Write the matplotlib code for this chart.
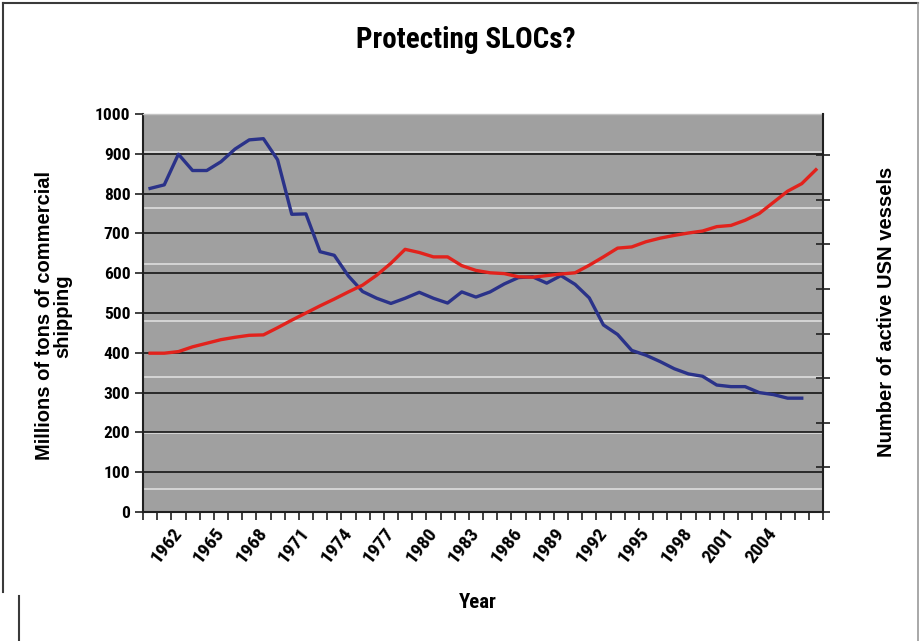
import matplotlib
matplotlib.use("Agg")
import matplotlib.pyplot as plt
from matplotlib.lines import Line2D
import numpy as np

# Yearly series, 1960-2007
years = list(range(1960, 2008))

# Active USN vessels (ends 2006)
usn_vessels = [
    813, 822, 899, 858, 858, 880, 912, 935, 938, 885,
    748, 749, 654, 645, 593, 554, 537, 524, 537, 552,
    537, 525, 553, 540, 553, 573, 589, 591, 575, 594,
    572, 538, 470, 446, 406, 394, 378, 360, 347, 341,
    319, 315, 315, 300, 295, 286, 286,
]

# Commercial shipping tonnage, millions of tons
commercial_tonnage = [
    399, 399, 403, 415, 424, 433, 439, 444, 445, 463,
    482, 500, 518, 535, 553, 570, 595, 625, 660, 652,
    641, 641, 619, 607, 601, 599, 591, 590, 594, 598,
    601, 620, 641, 663, 666, 679, 688, 695, 701, 706,
    717, 720, 733, 750, 778, 806, 825, 860,
]

label_years = [1962, 1965, 1968, 1971, 1974, 1977, 1980, 1983,
               1986, 1989, 1992, 1995, 1998, 2001, 2004]
left_ticks = [0, 100, 200, 300, 400, 500, 600, 700, 800, 900, 1000]
right_ticks = [0, 50, 100, 150, 200, 250, 300, 350, 400]
light_lines = [58, 199, 340, 481, 622, 763, 904]

NARROW = ["Roboto Condensed", "DejaVu Sans Condensed", "Liberation Sans Narrow",
          "Liberation Sans", "DejaVu Sans"]
REGULAR = ["Liberation Sans", "DejaVu Sans"]
narrow = dict(family=NARROW, fontweight="bold", fontstretch="condensed")

W, H = 923, 641
fig = plt.figure(figsize=(W / 100, H / 100), dpi=100)
fig.patch.set_facecolor("white")

ax = fig.add_axes([143 / W, 1 - 512 / H, 680 / W, 398 / H])
ax.set_facecolor("#a0a0a0")
ax.set_xlim(years[0] - 0.5, years[-1] + 0.5)
ax.set_ylim(0, 1000)

for v in light_lines:
    ax.axhline(v, color="#d9d9d9", lw=1.3, zorder=1)
for v in left_ticks[1:-1]:
    ax.axhline(v, color="#151515", lw=1.2, zorder=1.5)

ax.plot(years[:len(usn_vessels)], usn_vessels, color="#2a3289", lw=2.4,
        zorder=3, solid_joinstyle="round")
ax.plot(years, commercial_tonnage, color="#e2221c", lw=2.4, zorder=3,
        solid_joinstyle="round")

# category boundaries carry the tick marks, labels sit on the categories
ax.set_xticks(np.arange(years[0] - 0.5, years[-1] + 1, 1))
ax.tick_params(axis="x", which="major", direction="out", length=6,
               width=1.2, color="#202020", labelbottom=False)
ax.set_xticks(label_years, minor=True)
ax.set_xticklabels([str(y) for y in label_years], minor=True, rotation=52,
                   ha="right", va="center", rotation_mode="anchor",
                   fontsize=14, **narrow)
ax.tick_params(axis="x", which="minor", length=0, pad=13)

ax.set_yticks(left_ticks)
ax.set_yticklabels([str(v) for v in left_ticks], fontsize=12.5, **narrow)
ax.tick_params(axis="y", direction="out", length=6, width=1.2,
               color="#202020", pad=3)

for side in ("left", "bottom"):
    ax.spines[side].set_color("#202020")
    ax.spines[side].set_linewidth(1.5)
ax.spines["top"].set_color("#c4c4c4")
ax.spines["top"].set_linewidth(1.0)
ax.spines["right"].set_visible(False)

ax2 = ax.twinx()
ax2.set_ylim(0, 446)
ax2.set_yticks(right_ticks)
ax2.set_yticklabels([])
ax2.tick_params(axis="y", direction="inout", length=10, width=1.2,
                color="#202020")
for side in ("left", "top", "bottom"):
    ax2.spines[side].set_visible(False)
ax2.spines["right"].set_color("#202020")
ax2.spines["right"].set_linewidth(1.5)

fig.text(466 / W, 1 - 40 / H, "Protecting SLOCs?", ha="center", va="center",
         fontsize=21, **narrow)
fig.text(54 / W, 1 - 316 / H, "Millions of tons of commercial\nshipping",
         rotation=90, ha="center", va="center", multialignment="center",
         family=REGULAR, fontsize=14.5, fontweight="bold", linespacing=0.95)
fig.text(886 / W, 1 - 312 / H, "Number of active USN vessels", rotation=90,
         ha="center", va="center", family=REGULAR, fontsize=14.5,
         fontweight="bold")
fig.text(478 / W, 1 - 603 / H, "Year", ha="center", va="center",
         fontsize=15, **narrow)

# outer chart border
border = dict(color="#3a3a3a", lw=1.5, transform=fig.transFigure)
fig.add_artist(Line2D([3 / W, 918 / W], [1 - 3 / H, 1 - 3 / H], **border))
fig.add_artist(Line2D([3 / W, 3 / W], [1 - 3 / H, 1 - 592 / H], **border))
fig.add_artist(Line2D([918 / W, 918 / W], [1 - 3 / H, 0], color="#9a9a9a",
                      lw=1.2, transform=fig.transFigure))
fig.add_artist(Line2D([19 / W, 19 / W], [1 - 596 / H, 0], **border))

fig.savefig("out.png", dpi=100)
